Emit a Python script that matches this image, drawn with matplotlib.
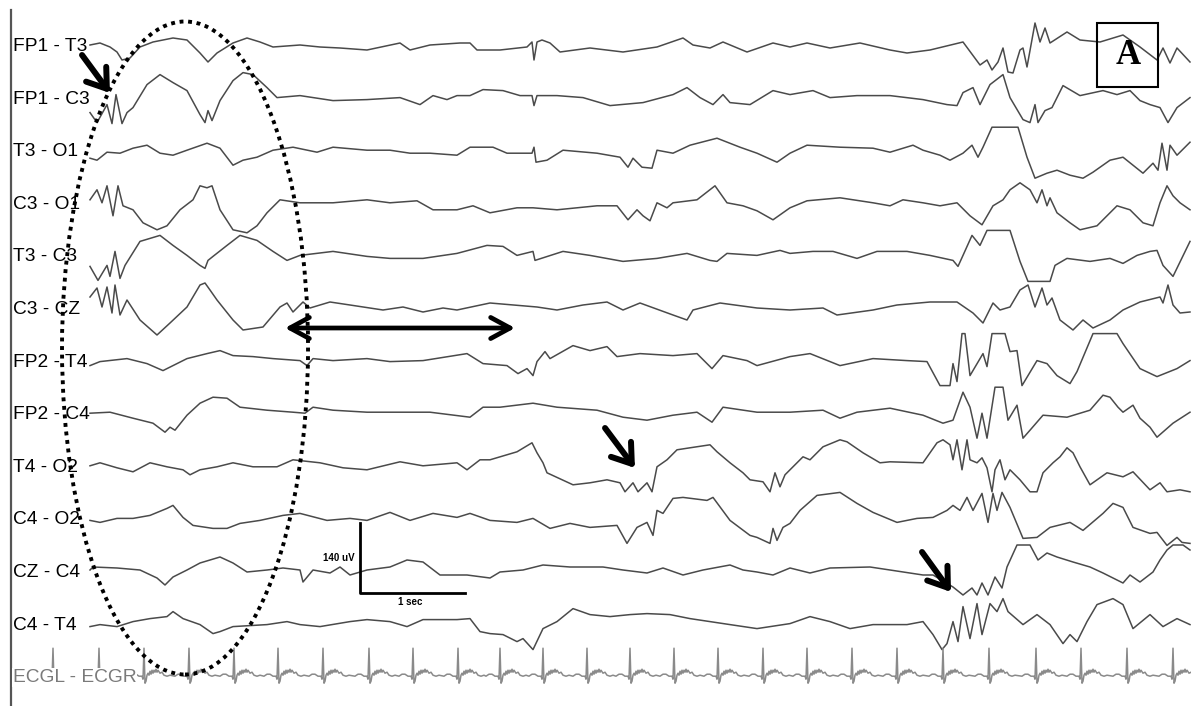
import numpy as np
import matplotlib.pyplot as plt
from matplotlib.patches import Ellipse, Rectangle, FancyArrowPatch

fs = 105      # display samples per second (paper speed)
gap = 105.2   # uV between channel baselines

channels = ["FP1 - T3", "FP1 - C3", "T3 - O1", "C3 - O1", "T3 - C3", "C3 - CZ",
            "FP2 - T4", "FP2 - C4", "T4 - O2", "C4 - O2", "CZ - C4", "C4 - T4",
            "ECGL - ECGR"]

# values: sample index, amplitude in uV (up = positive)
fp1_t3_s = [0, 10, 20, 27, 32, 40, 50, 63, 83, 97, 110, 118, 127, 143, 157, 170, 183, 210, 230, 250,
            277, 310, 320, 340, 370, 380, 387, 410, 437, 442, 444, 447, 452, 460, 470, 500, 533, 567, 593, 603,
            620, 633, 657, 683, 700, 717, 740, 770, 800, 817, 840, 873, 890, 897, 902, 908, 913, 918, 923, 930,
            933, 937, 945, 950, 955, 960, 977, 990, 1010, 1033, 1050, 1067, 1073, 1080, 1087, 1100]
fp1_t3_uv = [0, 4, -4, -14, -30, -26, -4, 6, 14, 10, -16, -34, -16, 4, 14, 6, -4, 0, -4, -6,
             -10, 4, -10, 0, 4, 4, -10, -10, -4, 6, -30, 6, 10, 4, -14, -6, -14, -4, 14, 0,
             -6, 6, -14, 4, -4, 4, -6, 4, -10, -16, -10, 6, -40, -30, -50, -34, -6, -54, -56, -10,
             -6, -44, 44, 6, 34, 4, 26, 10, 6, 20, -4, -30, -6, -36, -6, -34]

fp1_c3_s = [0, 7, 17, 22, 26, 32, 37, 43, 57, 70, 83, 97, 110, 115, 118, 122, 130, 143, 153, 163,
            177, 187, 210, 243, 277, 310, 330, 343, 357, 367, 380, 393, 413, 430, 442, 444, 447, 467, 493, 520,
            553, 583, 597, 610, 623, 633, 640, 660, 683, 700, 723, 740, 767, 800, 833, 857, 867, 873, 883, 890,
            900, 913, 920, 933, 940, 945, 948, 955, 962, 973, 990, 1013, 1027, 1040, 1050, 1060, 1070, 1078, 1087, 1100]
fp1_c3_uv = [-30, -50, -14, -52, 6, -52, -30, -20, 26, 46, 30, 14, -34, -50, -26, -46, -6, 34, 50, 46,
             20, 0, 4, -6, -4, 0, -14, 4, -4, 4, 4, 16, 14, 4, 4, -16, 4, 4, 0, -16,
             -10, 6, 20, 0, -14, 6, -10, -14, 14, 6, 14, 0, 4, 4, -4, -14, -16, 10, 20, -14,
             26, 46, 0, -44, -50, -14, -50, -26, -20, 24, 4, 14, 6, 14, -6, -14, -20, -50, -20, 0]

t3_o1_s = [0, 7, 17, 30, 43, 57, 70, 83, 97, 117, 130, 143, 153, 167, 183, 203, 227, 243, 277, 300,
           320, 340, 367, 380, 403, 417, 442, 444, 446, 457, 473, 507, 530, 538, 543, 552, 562, 567, 583, 600,
           627, 650, 667, 687, 700, 717, 750, 783, 800, 823, 833, 850, 860, 873, 882, 888, 893, 902, 928, 937,
           945, 957, 967, 980, 993, 1003, 1020, 1033, 1043, 1053, 1063, 1068, 1072, 1077, 1080, 1087, 1100]
t3_o1_uv = [-16, -20, -4, -6, 4, 10, -6, -10, 0, 14, 4, -30, -20, -14, 0, 6, -4, 6, 0, 0,
            -6, -6, -10, 6, 6, -6, -6, 6, -24, -20, 0, -6, -14, -34, -16, -34, -36, 0, -6, 10,
            24, 6, -6, -24, -6, 10, 6, 4, -4, 10, 0, -10, -20, -6, 10, -14, 6, 46, 46, -14,
            -56, -46, -40, -50, -56, -44, -20, -14, -30, -46, -26, -40, 14, -40, 10, -10, 16]

c3_o1_s = [0, 7, 12, 17, 23, 28, 33, 43, 53, 67, 77, 90, 103, 110, 117, 122, 130, 143, 157, 167,
           177, 190, 210, 243, 277, 300, 327, 343, 367, 383, 400, 427, 443, 467, 507, 527, 538, 547, 553, 560,
           567, 577, 583, 607, 625, 637, 653, 667, 683, 700, 717, 750, 783, 800, 813, 833, 850, 867, 880, 892,
           903, 913, 920, 930, 940, 947, 952, 957, 960, 967, 980, 990, 1007, 1027, 1040, 1053, 1063, 1070, 1077, 1083,
           1090, 1100]
c3_o1_uv = [6, 26, 0, 34, -26, 34, -6, -14, -40, -54, -46, -14, 6, 34, 30, 34, -14, -54, -60, -46,
            -20, 6, 0, 0, 6, 0, 4, -14, -14, -6, -20, -10, -10, -14, -6, -6, -34, -14, -26, -36,
            0, -10, 0, 6, 34, 0, -6, -16, -34, -10, 4, 10, 0, -6, 6, 0, -6, 0, -26, -44,
            -6, 6, 26, 40, 26, 0, 26, -6, 10, -20, -40, -54, -46, -6, -14, -40, -46, 0, 34, 14,
            0, -14]

t3_c3_s = [0, 8, 17, 20, 25, 30, 35, 50, 70, 83, 97, 110, 115, 118, 123, 137, 150, 167, 183, 197,
           210, 243, 277, 300, 333, 367, 397, 413, 427, 443, 445, 473, 500, 533, 567, 597, 620, 627, 637, 667,
           690, 700, 723, 743, 767, 787, 817, 840, 863, 868, 873, 882, 890, 897, 920, 930, 938, 960, 965, 977,
           1000, 1020, 1033, 1047, 1060, 1067, 1073, 1083, 1100]
t3_c3_uv = [-22, -50, -20, -42, 8, -46, -20, 28, 40, 20, 0, -20, -26, -10, -2, 20, 40, 30, 8, -10,
            0, 8, -2, -6, -6, 4, 20, 18, 0, 8, -10, 8, 0, -12, -6, 4, -10, -12, 4, 0,
            10, 4, 8, 8, -6, 8, 8, 0, -10, -22, 0, 40, 20, 50, 50, -12, -52, -52, -20, -6,
            -12, -6, -16, 0, 8, 10, -20, -42, 28]

c3_cz_s = [0, 7, 12, 17, 22, 25, 30, 37, 50, 67, 80, 97, 110, 115, 120, 127, 143, 153, 173, 190,
           197, 203, 213, 220, 240, 260, 293, 313, 333, 353, 367, 400, 447, 467, 493, 517, 533, 550, 583, 597,
           603, 630, 667, 700, 733, 747, 783, 807, 840, 867, 883, 893, 903, 910, 920, 930, 938, 945, 952, 957,
           962, 970, 983, 993, 1003, 1020, 1033, 1050, 1070, 1073, 1078, 1083, 1090, 1100]
c3_cz_uv = [22, 40, 2, 42, -10, 46, -14, 16, -24, -54, -30, 2, 46, 50, 36, 16, -24, -44, -38, 2,
            10, -8, 12, 0, 12, 6, -4, 2, -8, 0, -4, 10, 2, -4, 6, 12, -4, 10, -14, -24,
            -4, 10, 0, -4, 0, -14, -4, 6, 12, 12, -10, -30, 10, -4, 2, 36, 46, 2, 40, 6,
            20, -24, -44, -24, -40, -24, -4, 12, 22, 10, 46, 6, -10, -8]

fp2_t4_s = [0, 10, 37, 57, 73, 83, 97, 117, 130, 143, 163, 183, 210, 217, 223, 243, 277, 300, 333, 377,
            393, 417, 428, 437, 443, 447, 455, 460, 483, 500, 517, 527, 550, 583, 607, 622, 633, 657, 667, 700,
            720, 750, 783, 817, 837, 850, 860, 863, 867, 872, 875, 880, 893, 897, 902, 915, 920, 927, 932, 947,
            957, 967, 980, 987, 1003, 1027, 1033, 1050, 1067, 1087, 1100]
fp2_t4_uv = [-10, -2, 4, -6, -20, -10, 4, 14, 20, 10, 8, 4, 0, -10, 4, 0, 4, -2, 0, 14,
             -6, -10, -26, -16, -30, -2, 18, 4, 30, 20, 28, 8, 14, 10, 14, -16, 10, 0, -10, 8,
             14, -10, 4, 0, -2, -50, -50, -6, -42, 54, 54, -30, 14, -12, 54, 54, 18, 20, -50, 0,
             -6, -30, -46, -22, 54, 54, 34, -16, -32, -16, 0]

fp2_c4_s = [0, 20, 43, 63, 75, 80, 85, 97, 110, 123, 137, 150, 177, 203, 215, 223, 243, 277, 300, 340,
            380, 393, 410, 443, 467, 507, 533, 557, 583, 607, 622, 633, 667, 700, 733, 750, 767, 800, 833, 853,
            863, 873, 880, 887, 892, 897, 905, 913, 918, 927, 933, 940, 953, 977, 1000, 1013, 1020, 1028, 1033, 1043,
            1050, 1060, 1067, 1083, 1100]
fp2_c4_uv = [0, 2, -10, -20, -38, -28, -34, -4, 20, 32, 30, 12, 6, 2, 0, 12, 6, 2, 2, 2,
             -8, 12, 12, 20, 12, 6, -8, -14, -4, 2, -18, 12, 2, 2, 6, -10, 2, 10, -4, -20,
             -14, 42, 12, -50, 0, -50, 52, 52, -14, 16, -50, -34, -4, -8, 6, 36, 32, 12, 2, 16,
             -10, -28, -48, -20, 2]

t4_o2_s = [0, 10, 27, 43, 60, 77, 93, 100, 110, 127, 143, 163, 187, 203, 230, 253, 277, 310, 333, 367,
           377, 390, 400, 427, 442, 447, 453, 457, 483, 500, 517, 530, 535, 543, 548, 557, 562, 567, 577, 587,
           600, 620, 627, 640, 653, 660, 673, 680, 685, 690, 695, 700, 713, 720, 733, 750, 757, 773, 790, 800,
           833, 847, 853, 860, 863, 867, 872, 877, 880, 887, 892, 897, 902, 905, 910, 915, 920, 930, 940, 947,
           953, 963, 970, 977, 983, 990, 1000, 1017, 1033, 1043, 1060, 1070, 1077, 1090, 1100]
t4_o2_uv = [0, 6, -4, -12, 6, -2, -8, -18, -8, -2, 6, -2, -2, 12, 6, -4, -8, 8, 0, 6,
            -8, 12, 12, 28, 46, 26, 6, -14, -38, -34, -28, -34, -52, -34, -52, -34, -52, -2, 12, 32,
            36, 42, 28, 6, -14, -28, -32, -52, -14, -42, -18, -8, 18, 12, 38, 52, 48, 26, 6, 8,
            6, 46, 52, 42, 12, 52, -8, 52, 12, 6, 16, -4, -52, -8, 12, -28, -8, -28, -52, -52,
            -14, 6, 18, 36, 26, -2, -38, -14, -22, -12, -48, -34, -52, -48, -52]

c4_o2_s = [0, 10, 27, 43, 60, 77, 83, 93, 103, 123, 137, 150, 170, 193, 210, 237, 260, 277, 300, 320,
           343, 367, 380, 400, 427, 443, 460, 480, 500, 527, 537, 547, 557, 563, 567, 573, 583, 593, 617, 623,
           640, 660, 667, 680, 683, 687, 693, 700, 710, 727, 750, 767, 783, 807, 827, 843, 857, 863, 870, 877,
           883, 892, 898, 903, 907, 912, 920, 933, 947, 960, 980, 993, 1013, 1023, 1033, 1043, 1060, 1067, 1077, 1087,
           1092, 1100]
c4_o2_uv = [-4, -8, 0, 0, 6, 20, 26, 2, -14, -20, -20, -10, -4, 6, 10, -4, 0, -4, 12, -4,
            10, 2, 10, -4, -8, 0, -20, -10, -18, -14, -50, -18, -8, -34, 16, 10, 40, 42, 36, 42,
            -4, -34, -38, -50, -20, -44, -18, -10, 16, 46, 52, 30, 12, -8, 0, 2, 16, 26, 16, 42,
            16, 50, -8, 50, 16, 52, 22, -40, -38, -18, -8, -24, 10, 30, 22, -18, -30, -28, -54, -38,
            -48, -50]

cz_c4_s = [0, 3, 27, 50, 67, 75, 83, 97, 110, 130, 143, 157, 177, 193, 210, 213, 223, 240, 250, 260,
           277, 300, 317, 333, 350, 377, 400, 410, 433, 453, 480, 513, 533, 557, 573, 593, 613, 640, 653, 667,
           683, 700, 720, 740, 780, 800, 833, 843, 863, 873, 882, 887, 892, 898, 905, 912, 917, 927, 940, 948,
           957, 967, 983, 1000, 1013, 1023, 1033, 1040, 1050, 1063, 1070, 1077, 1083, 1093, 1100]
cz_c4_uv = [2, 8, 6, 2, -14, -28, -12, 2, 16, 28, 16, -2, 2, 6, 2, -22, 2, -4, 8, -8,
            2, 8, 22, 18, -8, -8, -14, -2, 2, 12, 8, 8, 2, -4, 6, -8, 2, 12, 2, -2,
            -8, 6, -4, 6, 8, 2, -8, -8, -32, -48, -34, -48, -24, -48, -12, -34, 8, 52, 52, 22,
            36, 28, 18, 8, -4, -14, -24, -8, -22, -2, 22, 42, 52, 52, 42]

c4_t4_s = [0, 10, 27, 43, 60, 77, 83, 93, 110, 123, 130, 143, 177, 197, 210, 230, 260, 277, 300, 317,
           333, 367, 380, 390, 400, 413, 427, 433, 443, 453, 467, 483, 500, 520, 540, 557, 580, 600, 620, 640,
           667, 700, 720, 740, 760, 783, 817, 833, 843, 852, 857, 863, 868, 873, 880, 887, 892, 900, 907, 913,
           918, 933, 947, 960, 973, 980, 987, 997, 1007, 1023, 1033, 1043, 1060, 1073, 1087, 1100]
c4_t4_uv = [-6, -2, -6, 4, 10, 14, 24, 10, -2, -20, -16, -6, -2, 4, -2, -6, 4, 8, 4, -6,
            8, 8, 10, -16, -20, -22, -36, -30, -52, -10, 4, 30, 18, 14, 18, 20, 18, 10, 4, -2,
            -10, 0, 14, 4, -10, -2, -2, 4, -22, -52, -40, 4, -36, 34, -30, 40, -22, 40, 24, 50,
            24, -2, 18, -2, -40, -22, -36, 4, 38, 50, 38, -10, 18, -6, 10, -2]

# ECG: R-peak positions and one beat shape read from the strip
ecg_beats = [-37, 9, 54, 99, 144, 188, 233, 279, 323, 368, 410, 453, 497, 540, 584, 628, 673,
             717, 762, 807, 853, 899, 946, 991, 1037, 1083]
beat_dx = [-14, -11, -8, -5, -2, -1, 0, 1, 2, 3, 4, 5, 6, 7, 8, 9, 10, 11, 12, 13, 14, 16, 18, 20, 23, 26]
beat_uv = [0, 4, 4, 0, 0, -6, 56, -14, -10, 2, 6, 2, 10, 4, 12, 6, 12, 8, 14, 8, 12, 6, 8, 2, 0, 2]

ecg_s, ecg_uv = [], []
for b in ecg_beats:
    ecg_s += [b + d for d in beat_dx]
    ecg_uv += beat_uv

traces = [(fp1_t3_s, fp1_t3_uv), (fp1_c3_s, fp1_c3_uv), (t3_o1_s, t3_o1_uv), (c3_o1_s, c3_o1_uv),
          (t3_c3_s, t3_c3_uv), (c3_cz_s, c3_cz_uv), (fp2_t4_s, fp2_t4_uv), (fp2_c4_s, fp2_c4_uv),
          (t4_o2_s, t4_o2_uv), (c4_o2_s, c4_o2_uv), (cz_c4_s, cz_c4_uv), (c4_t4_s, c4_t4_uv),
          (ecg_s, ecg_uv)]

fig = plt.figure(figsize=(11.91, 7.06), dpi=100)
ax = fig.add_axes([0, 0, 1, 1])
ax.set_xlim(-90 / fs, 1101 / fs)
ax.set_ylim(-1322, 90)
ax.axis('off')

for i, (s, uv) in enumerate(traces):
    col = '#8a8a8a' if i == 12 else '#4a4a4a'
    ax.plot(np.array(s) / fs, np.array(uv) - i * gap, color=col, lw=1.1, zorder=2)
    if i == 12:
        ax.text(-0.733, -i * gap - 3, channels[i], fontsize=13.8, family='Liberation Sans',
                color='#7a7a7a', va='center', ha='left', zorder=3,
                bbox=dict(facecolor='white', edgecolor='none', pad=0.5))
    else:
        ax.text(-0.733, -i * gap - 3, channels[i], fontsize=13.8, family='Liberation Sans',
                color='black', va='center', ha='left', zorder=3)

# left border of the page
ax.axvline(-0.748, ymin=0, ymax=0.986, color='#555555', lw=1.6)

# dotted ellipse around the left discharge
ax.add_patch(Ellipse((0.905, -606), 2.343, 1306, fill=False, edgecolor='black',
                     lw=2.8, linestyle=(0, (1, 1.2)), zorder=5))

# arrows
diag = dict(color='black', lw=4.3, mutation_scale=20, shrinkA=0, shrinkB=0,
            capstyle='round', joinstyle='round', zorder=6,
            arrowstyle='->,head_length=0.65,head_width=0.45')
ax.add_patch(FancyArrowPatch((-0.076, -20), (0.19, -96), **diag))
ax.add_patch(FancyArrowPatch((4.905, -766), (5.19, -846), **diag))
ax.add_patch(FancyArrowPatch((7.924, -1014), (8.2, -1094), **diag))
ax.add_patch(FancyArrowPatch((1.857, -566), (4.048, -566), color='black', lw=3.4,
                             mutation_scale=20, shrinkA=0, shrinkB=0, capstyle='round',
                             joinstyle='round', zorder=6,
                             arrowstyle='<->,head_length=0.7,head_width=0.38'))

# calibration bar: 140 uV x 1 sec
t0, y0 = 2.571, -1096
ax.plot([t0, t0, t0 + 1], [y0 + 140, y0, y0], color='black', lw=2, zorder=4)
ax.text(t0 - 0.05, y0 + 70, '140 uV', fontsize=7, fontweight='bold', ha='right', va='center',
        family='Liberation Sans')
ax.text(t0 + 0.36, y0 - 18, '1 sec', fontsize=7, fontweight='bold', ha='left', va='center',
        family='Liberation Sans')

# panel letter
ax.add_patch(Rectangle((9.59, -84), 0.581, 128, fill=False, edgecolor='black', lw=1.5, zorder=6))
ax.text(9.886, -22, 'A', fontsize=25, fontweight='bold', family='Liberation Serif',
        ha='center', va='center', zorder=6)

fig.savefig('out.png', dpi=100)
